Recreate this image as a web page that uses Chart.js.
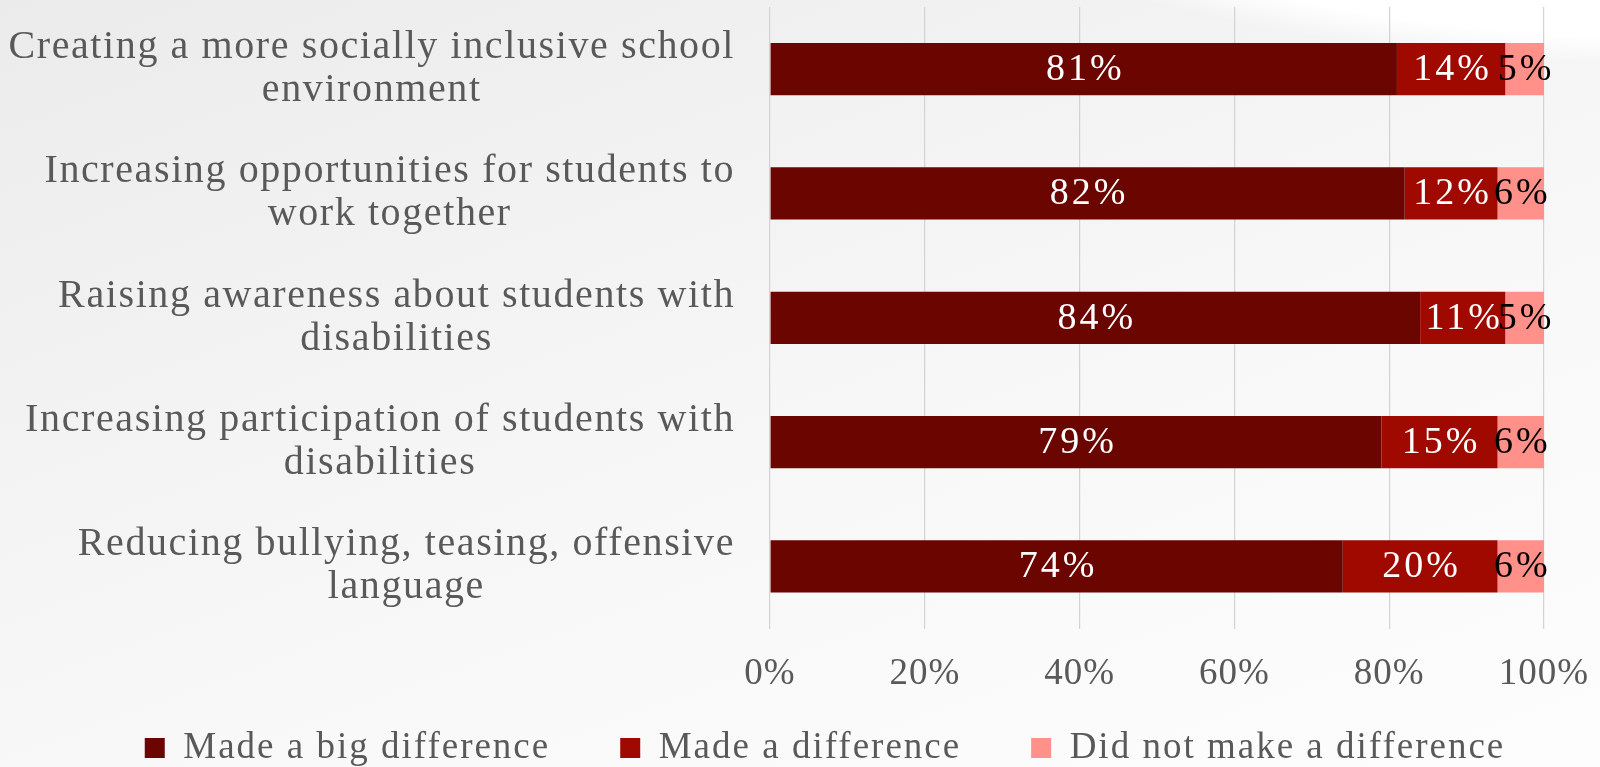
<!DOCTYPE html>
<html>
<head>
<meta charset="utf-8">
<script src="https://cdn.jsdelivr.net/npm/chart.js@4"></script>
<style>
  html, body { margin: 0; padding: 0; }
  body {
    width: 1600px; height: 767px; overflow: hidden;
    background:
      radial-gradient(ellipse 1100px 260px at 1750px -120px, #ffffff 62%, rgba(255,255,255,0) 72%),
      linear-gradient(160deg, #ebebeb 0%, #f3f3f3 35%, #f8f8f8 60%, #fdfdfd 100%);
  }
  canvas { display: block; }
</style>
</head>
<body>
<canvas id="c" width="1600" height="767"></canvas>
<script>
const categories = [
  ["Creating a more socially inclusive school", "environment"],
  ["Increasing opportunities for students to", "work together"],
  ["Raising awareness about students with", "disabilities"],
  ["Increasing participation of students with", "disabilities"],
  ["Reducing bullying, teasing, offensive", "language"]
];
const seriesNames = ["Made a big difference", "Made a difference", "Did not make a difference"];
const bigDifference = [81, 82, 84, 79, 74];
const madeDifference = [14, 12, 11, 15, 20];
const noDifference = [5, 6, 5, 6, 6];
const xTickValues = [0, 20, 40, 60, 80, 100];

const FONT = "'Liberation Serif', 'Times New Roman', serif";
const GRAY = "#595959";
const LEGEND_H = 47;
const LEGEND_ITEMS_TOP = 729.5;
const LEGEND_DX = 53;

const spacingPlugin = {
  id: 'spacing',
  afterInit(chart) {
    const lg = chart.legend;
    if (!lg) return;
    const origFit = lg.fit.bind(lg);
    const origDraw = lg.draw.bind(lg);
    lg.fit = function () {
      const ctx = this.ctx;
      ctx.save(); ctx.letterSpacing = '2px';
      origFit();
      ctx.restore();
      this.height = LEGEND_H;
    };
    lg.draw = function () {
      const ctx = this.ctx;
      const saved = { top: this.top, bottom: this.bottom, left: this.left, right: this.right };
      const pad = this.options.labels.padding;
      this.top = LEGEND_ITEMS_TOP - pad;
      this.bottom = this.top + pad + 80;
      this.left = saved.left + LEGEND_DX;
      this.right = saved.right + LEGEND_DX;
      ctx.save(); ctx.letterSpacing = '2px';
      origDraw();
      ctx.restore();
      Object.assign(this, saved);
    };
  },
  beforeLayout(chart) { chart.ctx.letterSpacing = '1px'; },
  beforeDraw(chart) { chart.ctx.letterSpacing = '1px'; }
};

const catLabelPlugin = {
  id: 'catLabels',
  afterDraw(chart) {
    const ctx = chart.ctx;
    const y = chart.scales.y;
    const right = chart.chartArea.left - 35;
    ctx.save();
    ctx.font = "40px " + FONT;
    ctx.letterSpacing = '1.6px';
    ctx.fillStyle = GRAY;
    ctx.textBaseline = 'middle';
    ctx.textAlign = 'center';
    categories.forEach((lines, i) => {
      const cy = y.getPixelForValue(i);
      const w = Math.max(...lines.map(l => ctx.measureText(l).width));
      const cx = right - w / 2;
      const lh = 43;
      const startY = cy - (lines.length - 1) * lh / 2;
      lines.forEach((l, k) => ctx.fillText(l, cx, startY + k * lh));
    });
    ctx.restore();
  }
};

const dataLabelPlugin = {
  id: 'dataLabels',
  afterDatasetsDraw(chart) {
    const ctx = chart.ctx;
    const colors = ['#ffffff', '#ffffff', '#000000'];
    ctx.save();
    ctx.font = "38px " + FONT;
    ctx.letterSpacing = '3px';
    ctx.textAlign = 'center';
    ctx.textBaseline = 'middle';
    chart.data.datasets.forEach((ds, di) => {
      const meta = chart.getDatasetMeta(di);
      meta.data.forEach((bar, i) => {
        const cx = (bar.x + bar.base) / 2 + 1.5;
        ctx.fillStyle = colors[di];
        ctx.fillText(ds.data[i] + '%', cx, bar.y + 1);
      });
    });
    ctx.restore();
  }
};

Chart.defaults.font.family = FONT;

new Chart(document.getElementById('c'), {
  type: 'bar',
  data: {
    labels: categories,
    datasets: [
      { label: seriesNames[0], data: bigDifference, backgroundColor: '#6b0500' },
      { label: seriesNames[1], data: madeDifference, backgroundColor: '#a00900' },
      { label: seriesNames[2], data: noDifference, backgroundColor: '#ff918a' }
    ]
  },
  options: {
    indexAxis: 'y',
    responsive: false,
    animation: false,
    events: [],
    layout: { padding: { left: 0, right: 56, top: 7, bottom: 0 } },
    datasets: { bar: { barPercentage: 0.7, categoryPercentage: 0.6, borderWidth: 0 } },
    scales: {
      x: {
        stacked: true,
        min: 0, max: 100,
        afterBuildTicks(scale) { scale.ticks = xTickValues.map(v => ({ value: v })); },
        afterFit(scale) { scale.paddingRight = 0; scale.paddingLeft = 0; },
        ticks: {
          callback: v => v + '%',
          color: GRAY,
          font: { size: 37 },
          padding: 23.5,
          maxRotation: 0
        },
        grid: { color: '#d3d3d3', lineWidth: 1.2, drawTicks: false },
        border: { display: false }
      },
      y: {
        stacked: true,
        ticks: { display: false },
        grid: { display: false },
        border: { display: false },
        afterFit(scale) { scale.width = 770; }
      }
    },
    plugins: {
      legend: {
        position: 'bottom',
        labels: {
          color: GRAY,
          font: { size: 37 },
          boxWidth: 20,
          boxHeight: 20,
          padding: 70
        }
      },
      tooltip: { enabled: false }
    }
  },
  plugins: [spacingPlugin, catLabelPlugin, dataLabelPlugin]
});
</script>
</body>
</html>
